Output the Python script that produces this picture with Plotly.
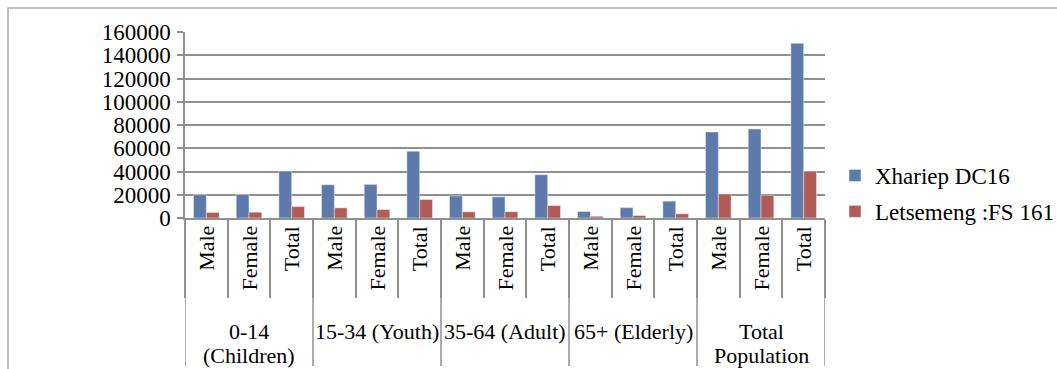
import plotly.graph_objects as go

# ---- data ----
groups = ["0-14 (Children)", "15-34 (Youth)", "35-64 (Adult)", "65+ (Elderly)", "Total Population"]
group_label_lines = [["0-14", "(Children)"], ["15-34 (Youth)"], ["35-64 (Adult)"], ["65+ (Elderly)"], ["Total", "Population"]]
subgroups = ["Male", "Female", "Total"]
series_names = ["Xhariep DC16", "Letsemeng :FS 161"]
xhariep = [20100, 20300, 40400, 28600, 28900, 57500, 19000, 18200, 37200, 5600, 8900, 14500, 74000, 76600, 150300]
letsemeng = [4800, 5000, 9800, 8700, 7200, 15900, 5300, 5400, 10700, 1500, 2100, 3600, 20700, 19600, 40300]
y_ticks = [0, 20000, 40000, 60000, 80000, 100000, 120000, 140000, 160000]

FONT = "'Liberation Serif', 'Times New Roman', Times, 'DejaVu Serif', serif"
BLUE = "#5e7aaa"
RED = "#b35b57"
GRID = "#8f918f"
BORDER = "#a8a8a8"

cats = [f"{g}|{s}" for g in groups for s in subgroups]

W, H = 1057, 369
L, R, T, B = 185, 232, 32, 151
ph = H - T - B


def py2paper(py):
    return (H - B - py) / ph


def px2paper(px):
    return (px - L) / (W - L - R)


fig = go.Figure()
fig.add_trace(go.Bar(x=cats, y=xhariep, name=series_names[0], marker_color=BLUE,
                     legendgroup="a"))
fig.add_trace(go.Bar(x=cats, y=letsemeng, name=series_names[1], marker_color=RED,
                     legendgroup="b"))

annotations = []
# inner (rotated) labels
for c in cats:
    annotations.append(dict(x=c, y=py2paper(224), xref="x", yref="paper", text=c.split("|")[1],
                            textangle=-90, showarrow=False, xanchor="center", yanchor="top",
                            font=dict(family=FONT, size=22, color="black")))
# group labels
for gi, lines in enumerate(group_label_lines):
    center_cat = cats[gi * 3 + 1]
    for li, line in enumerate(lines):
        annotations.append(dict(x=center_cat, y=py2paper(331 + li * 24), xref="x", yref="paper",
                                text=line, showarrow=False, xanchor="center", yanchor="middle",
                                font=dict(family=FONT, size=22, color="black")))

shapes = []
# outer chart border
shapes.append(dict(type="rect", xref="paper", yref="paper", x0=px2paper(8), x1=px2paper(1080),
                   y0=py2paper(400), y1=py2paper(8), line=dict(color=BORDER, width=1.5),
                   layer="below"))
# group dividers and left axis extension
for b in [-0.5, 2.5, 5.5, 8.5, 11.5, 14.5]:
    shapes.append(dict(type="line", xref="x", yref="paper", x0=b, x1=b, y0=0, y1=py2paper(366),
                       line=dict(color=GRID, width=1.5)))

fig.update_layout(
    width=W, height=H,
    margin=dict(l=L, r=R, t=T, b=B, autoexpand=False),
    paper_bgcolor="white", plot_bgcolor="white",
    barmode="group", bargap=0.4, bargroupgap=0,
    font=dict(family=FONT, size=22, color="black"),
    showlegend=True,
    legend=dict(x=px2paper(835), xanchor="left", y=py2paper(154), yanchor="top",
                font=dict(family=FONT, size=23, color="black"), tracegroupgap=3,
                bgcolor="rgba(0,0,0,0)"),
    annotations=annotations,
    shapes=shapes,
    xaxis=dict(type="category", categoryorder="array", categoryarray=cats,
               showticklabels=False, ticks="outside", tickson="boundaries", ticklen=78,
               tickcolor=GRID, tickwidth=1.5, showline=True, linecolor=GRID, linewidth=1.5,
               showgrid=False, zeroline=False, range=[-0.5, 14.5]),
    yaxis=dict(range=[0, 160000], tickvals=y_ticks, ticktext=[str(v) for v in y_ticks],
               showgrid=True, gridcolor=GRID, gridwidth=1.5, zeroline=False,
               showline=True, linecolor=GRID, linewidth=1.5, ticks="outside", ticklen=6,
               tickcolor=GRID, tickwidth=1.5, ticklabelstandoff=2,
               tickfont=dict(family=FONT, size=23, color="black")),
)

fig.write_html("out.html")
